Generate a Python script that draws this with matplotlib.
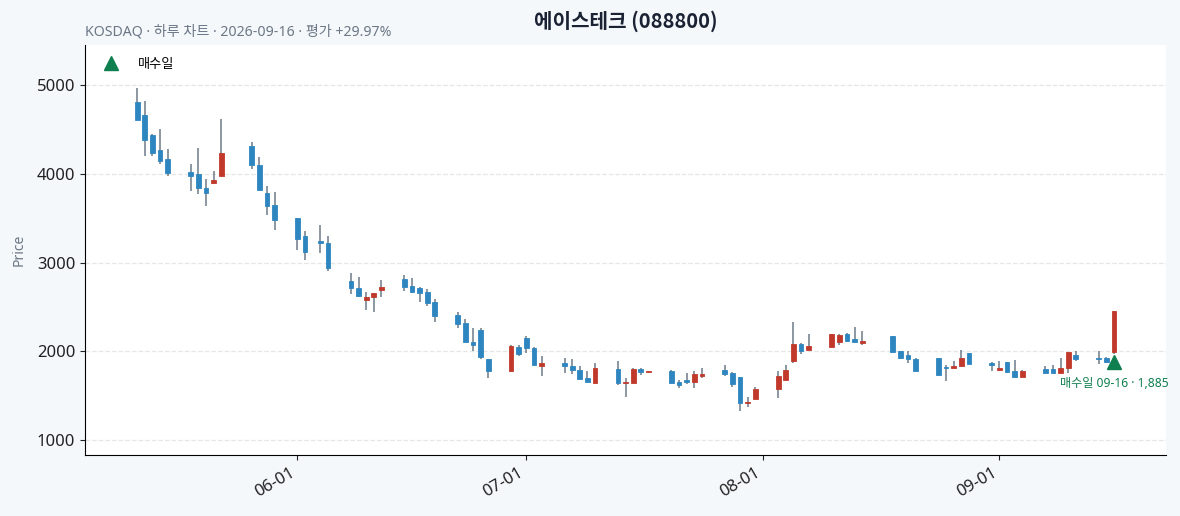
import matplotlib
matplotlib.use("Agg")
import matplotlib.pyplot as plt
import matplotlib.dates as mdates
import pandas as pd
import numpy as np

plt.rcParams['font.family'] = ['Noto Sans', 'Noto Sans CJK KR', 'DejaVu Sans']

title = "에이스테크 (088800)"
subtitle = "KOSDAQ · 하루 차트 · 2026-09-16 · 평가 +29.97%"
buy_label = "매수일"
buy_date = "2026-09-16"
buy_price = 1885

dates = [
    "2026-05-11", "2026-05-12", "2026-05-13", "2026-05-14", "2026-05-15",
    "2026-05-18", "2026-05-19", "2026-05-20", "2026-05-21", "2026-05-22",
    "2026-05-26", "2026-05-27", "2026-05-28", "2026-05-29",
    "2026-06-01", "2026-06-02", "2026-06-04", "2026-06-05",
    "2026-06-08", "2026-06-09", "2026-06-10", "2026-06-11", "2026-06-12",
    "2026-06-15", "2026-06-16", "2026-06-17", "2026-06-18", "2026-06-19",
    "2026-06-22", "2026-06-23", "2026-06-24", "2026-06-25", "2026-06-26",
    "2026-06-29", "2026-06-30", "2026-07-01", "2026-07-02", "2026-07-03",
    "2026-07-06", "2026-07-07", "2026-07-08", "2026-07-09", "2026-07-10",
    "2026-07-13", "2026-07-14", "2026-07-15", "2026-07-16", "2026-07-17",
    "2026-07-20", "2026-07-21", "2026-07-22", "2026-07-23", "2026-07-24",
    "2026-07-27", "2026-07-28", "2026-07-29", "2026-07-30", "2026-07-31",
    "2026-08-03", "2026-08-04", "2026-08-05", "2026-08-06", "2026-08-07",
    "2026-08-10", "2026-08-11", "2026-08-12", "2026-08-13", "2026-08-14",
    "2026-08-18", "2026-08-19", "2026-08-20", "2026-08-21",
    "2026-08-24", "2026-08-25", "2026-08-26", "2026-08-27", "2026-08-28",
    "2026-08-31", "2026-09-01", "2026-09-02", "2026-09-03", "2026-09-04",
    "2026-09-07", "2026-09-08", "2026-09-09", "2026-09-10", "2026-09-11",
    "2026-09-14", "2026-09-15", "2026-09-16",
]

opens = [
    4800, 4657, 4432, 4270, 4169,
    4015, 4000, 3842, 3899, 3977,
    4308, 4101, 3786, 3651,
    3497, 3302, 3238, 3223,
    2789, 2718, 2579, 2613, 2692,
    2812, 2733, 2711, 2666, 2553,
    2406, 2316, 2102, 2238, 1911,
    1780, 2054, 2156, 2043, 1836,
    1874, 1840, 1795, 1697, 1645,
    1808, 1647, 1647, 1800, 1774,
    1778, 1658, 1677, 1658, 1722,
    1789, 1759, 1711, 1425, 1466,
    1579, 1681, 1895, 2082, 2018,
    2052, 2112, 2195, 2146, 2097,
    2172, 2000, 1958, 1921,
    1925, 1831, 1819, 1842, 1981,
    1872, 1797, 1880, 1778, 1718,
    1808, 1801, 1759, 1819, 1966,
    1925, 1932, 1995,
]

highs = [
    4957, 4811, 4443, 4496, 4282,
    4113, 4293, 3936, 4026, 4619,
    4353, 4191, 3865, 3797,
    3504, 3358, 3426, 3302,
    2887, 2842, 2673, 2662, 2801,
    2865, 2823, 2729, 2707, 2594,
    2448, 2369, 2268, 2268, 1919,
    2069, 2069, 2171, 2054, 1949,
    1930, 1911, 1836, 1784, 1874,
    1891, 1707, 1819, 1812, 1782,
    1789, 1684, 1755, 1778, 1819,
    1853, 1767, 1718, 1493, 1605,
    1785, 1853, 2337, 2097, 2202,
    2202, 2198, 2213, 2270, 2225,
    2176, 2011, 2003, 1925,
    1928, 1850, 1894, 2022, 1988,
    1883, 1894, 1883, 1906, 1793,
    1838, 1853, 1932, 1992, 2000,
    2000, 1943, 2460,
]

lows = [
    4600, 4203, 4203, 4105, 3970,
    3801, 3775, 3632, 3887, 3977,
    4056, 3812, 3538, 3369,
    3144, 3024, 3110, 2900,
    2650, 2613, 2470, 2448, 2617,
    2680, 2662, 2556, 2512, 2335,
    2268, 2106, 2009, 1915, 1705,
    1769, 1949, 1986, 1848, 1727,
    1761, 1746, 1686, 1652, 1645,
    1628, 1493, 1647, 1741, 1774,
    1643, 1594, 1639, 1594, 1707,
    1726, 1602, 1328, 1376, 1466,
    1482, 1681, 1876, 1977, 2018,
    2052, 2071, 2109, 2105, 2078,
    1992, 1921, 1872, 1786,
    1741, 1673, 1816, 1838, 1861,
    1786, 1789, 1763, 1718, 1718,
    1759, 1759, 1759, 1759, 1891,
    1857, 1872, 1970,
]

closes = [
    4608, 4383, 4237, 4146, 4011,
    3977, 3842, 3786, 3925, 4229,
    4101, 3816, 3636, 3482,
    3268, 3122, 3219, 2941,
    2714, 2624, 2609, 2654, 2722,
    2726, 2669, 2658, 2546, 2399,
    2312, 2106, 2076, 1934, 1780,
    2058, 1971, 2039, 1848, 1874,
    1836, 1791, 1690, 1660, 1818,
    1647, 1654, 1800, 1774, 1782,
    1647, 1624, 1658, 1744, 1744,
    1748, 1635, 1425, 1433, 1583,
    1722, 1797, 2082, 2003, 2060,
    2195, 2180, 2120, 2109, 2116,
    1996, 1928, 1913, 1786,
    1741, 1816, 1842, 1932, 1861,
    1849, 1819, 1767, 1718, 1778,
    1759, 1759, 1819, 1992, 1921,
    1910, 1887, 2450,
]

up_color = "#c0392b"
down_color = "#2e86c1"
wick_color = "#6c7a89"
buy_color = "#0f7f4f"

df = pd.DataFrame({"date": pd.to_datetime(dates), "open": opens, "high": highs,
                   "low": lows, "close": closes})
x = mdates.date2num(df["date"])

fig = plt.figure(figsize=(11.8, 5.16), dpi=100)
fig.patch.set_facecolor("#f5f8fb")
ax = fig.add_axes([0.072, 0.118, 0.916, 0.795])
ax.set_facecolor("white")

width = 0.62
for xi, o, h, l, c in zip(x, df["open"], df["high"], df["low"], df["close"]):
    col = up_color if c >= o else down_color
    ax.vlines(xi, l, h, color=wick_color, linewidth=1.1, zorder=2)
    bottom = min(o, c)
    height = max(abs(c - o), 6)
    ax.bar(xi, height, width=width, bottom=bottom, color=col, edgecolor=col,
           linewidth=0.6, zorder=3)

bx = mdates.date2num(pd.Timestamp(buy_date))
ax.plot([bx], [buy_price], marker="^", color=buy_color, markersize=10,
        linestyle="none", zorder=5, label=buy_label)
ax.annotate(f"{buy_label} {buy_date[5:]} · {buy_price:,}", xy=(bx, buy_price),
            xytext=(0, -11), textcoords="offset points", ha="center", va="top",
            fontsize=8.7, color=buy_color, annotation_clip=False)

ax.set_xlim(x[0] - 6.85, x[-1] + 6.8)
ax.set_ylim(835, 5447)
ax.set_yticks([1000, 2000, 3000, 4000, 5000])
ax.xaxis.set_major_locator(mdates.MonthLocator())
ax.xaxis.set_major_formatter(mdates.DateFormatter("%m-%d"))
for lbl in ax.get_xticklabels():
    lbl.set_rotation(30)
    lbl.set_ha("right")
ax.tick_params(axis="both", labelsize=12, colors="#222222")
ax.grid(axis="y", linestyle="--", color="#e6e6e6", linewidth=0.9)
ax.set_axisbelow(True)
for s in ["top", "right"]:
    ax.spines[s].set_visible(False)
ax.set_ylabel("Price", color="#6b7785", fontsize=10, labelpad=7)

ax.legend(loc="upper left", frameon=False, fontsize=9.5, handletextpad=1.0,
          borderaxespad=0.6)

ax.text(0.5, 1.057, title, transform=ax.transAxes, ha="center", va="center",
        fontsize=14.5, fontweight="bold", color="#1a2233",
        family=['Noto Sans CJK KR', 'DejaVu Sans'])
ax.text(0.0, 1.012, subtitle, transform=ax.transAxes, ha="left", va="bottom",
        fontsize=10.2, color="#6b7785")

fig.savefig("out.png", dpi=100, facecolor=fig.get_facecolor())
